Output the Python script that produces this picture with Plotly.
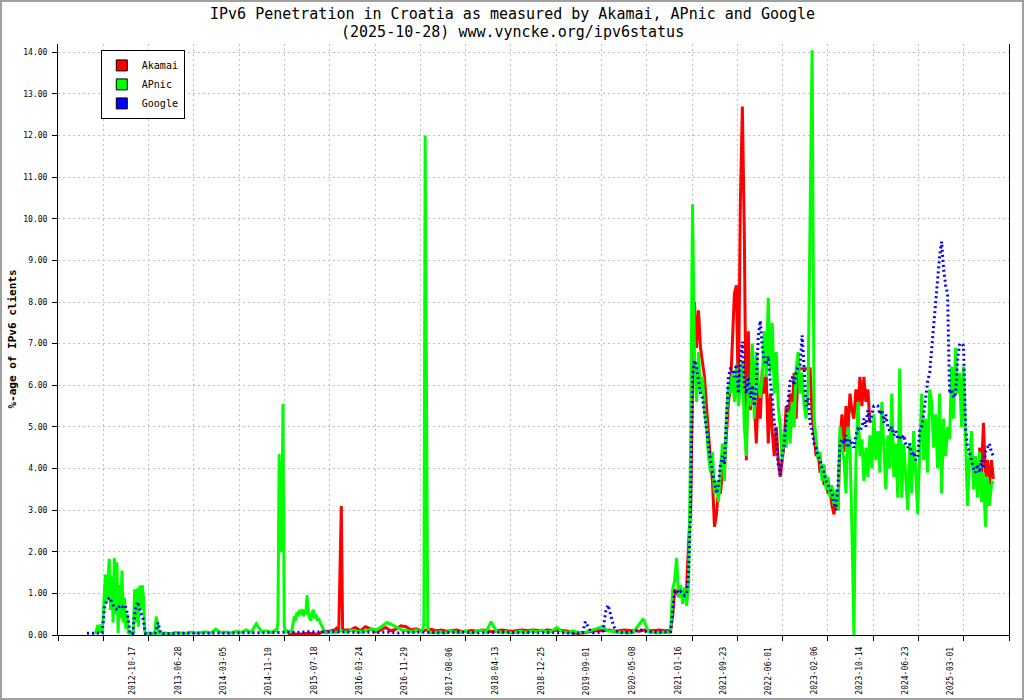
import pandas as pd
import plotly.graph_objects as go

# date labels printed under the x axis
tick_dates = ["2012-10-17", "2013-06-28", "2014-03-05", "2014-11-10", "2015-07-18",
              "2016-03-24", "2016-11-29", "2017-08-06", "2018-04-13", "2018-12-25",
              "2019-09-01", "2020-05-08", "2021-01-16", "2021-09-23", "2022-06-01",
              "2023-02-06", "2023-10-14", "2024-06-23", "2025-03-01"]
y_ticks = list(range(0, 15))

# ---- Akamai (% of clients) ----
akamai_2015 = [0.02, 0.03, 0.02, 0.03, 0.04, 0.03, 0.02, 0.1, 0.08, 0.12]          # from 2015-02-27, every 28 days
akamai_spike = [0.1, 0.15, 0.1, 0.12, 1.64, 3.1, 0.15, 0.1, 0.12]                   # from 2015-11-13, weekly
akamai_quiet = [0.12, 0.18, 0.1, 0.2, 0.15, 0.08, 0.12, 0.18, 0.1, 0.14,
                0.22, 0.2, 0.12, 0.15, 0.1, 0.12, 0.14, 0.1, 0.12, 0.09,
                0.1, 0.12, 0.08, 0.1, 0.11, 0.09, 0.12, 0.1, 0.08, 0.1,
                0.12, 0.1, 0.09, 0.11, 0.12, 0.1, 0.12, 0.11, 0.1, 0.12,
                0.1, 0.12, 0.11, 0.09, 0.05, 0.04, 0.05, 0.08, 0.1, 0.11,
                0.1, 0.12, 0.09, 0.1, 0.12, 0.11, 0.1, 0.09, 0.12, 0.1,
                0.11, 0.12]                                                          # from 2016-02-05, every 28 days
akamai_2020 = [0.1, 0.11, 0.1, 0.12, 0.45, 1.1, 1.0, 0.95, 1.05, 0.9, 1.0, 1.1, 2.2,
               3.0, 6.0, 8.0, 6.9, 7.8, 6.9, 6.6, 6.2, 5.5, 4.8, 4.2, 3.7, 2.6, 2.9, 3.5, 3.4, 3.9,
               4.0, 4.8, 5.6, 5.9, 7.2, 8.2, 8.4, 5.6, 10.4, 12.7, 9.6, 4.2, 7.3, 5.4, 6.0, 5.6, 4.6, 5.9, 5.2, 6.4,
               5.8, 6.2, 4.6, 5.8, 4.9, 4.3, 5.0, 4.2, 3.8, 4.2, 4.6, 5.5, 4.9, 5.8, 5.4, 6.3, 5.2, 6.4, 6.4, 6.4,
               6.4, 6.4, 6.4, 6.4, 5.3, 4.8, 4.3, 4.4, 3.9, 4.1, 3.6, 3.7, 3.4, 3.5, 3.1, 2.9, 3.4, 3.0, 4.7, 5.3,
               4.4, 5.5, 4.9, 5.8, 5.4, 5.2, 5.9, 5.4, 6.2, 5.5, 6.2, 5.6, 5.9, 5.1]   # from 2020-11-06, every 11 days
akamai_2025 = [4.5, 3.9, 5.1, 3.8, 4.2, 3.6, 4.2, 3.75]                             # from 2025-08-10, every 11 days

# ---- APnic ----
apnic_2012 = [0.02, 0.12, 0.24, 0.05, 0.25, 0.04, 0.3, 0.95, 1.45, 0.8,
              1.5, 1.83, 0.6, 1.4, 0.3, 1.85, 0.5, 1.75, 0.05, 1.2,
              0.4, 1.55, 0.3, 0.9, 0.15, 0.5, 0.05, 0.03, 0.04, 0.03,
              0.05, 1.1, 0.3, 1.12, 0.2, 1.18, 0.6, 1.2, 0.9, 0.1,
              0.03, 0.04, 0.03, 0.05, 0.04, 0.03, 0.05, 0.04, 0.44, 0.3, 0.04]      # from 2012-03-30, weekly
apnic_2013 = [0.04, 0.05, 0.03, 0.06, 0.05, 0.04, 0.07, 0.05, 0.06, 0.08, 0.05,
              0.14, 0.06, 0.07, 0.05, 0.09, 0.06, 0.12, 0.07, 0.27, 0.08, 0.1]      # from 2013-03-22, every 28 days
apnic_2014 = [0.06, 0.08, 0.1, 0.12, 0.1, 0.3, 4.35, 2.1, 2.0, 5.55, 0.2,
              0.08, 0.1, 0.06, 0.08, 0.07, 0.1, 0.3, 0.45, 0.35, 0.55, 0.45,
              0.6, 0.5, 0.62, 0.45, 0.6, 0.5, 0.95, 0.55, 0.4, 0.35, 0.55,
              0.6, 0.4, 0.5, 0.35, 0.4, 0.3, 0.25, 0.2, 0.1, 0.06, 0.05]           # from 2014-11-28, weekly
apnic_2015 = [0.08, 0.06, 0.1, 0.07, 0.12, 0.09, 0.08, 0.1, 0.15,
              0.12, 0.2, 0.3, 0.25, 0.18, 0.12, 0.1, 0.08]                          # from 2015-10-23, every 28 days
apnic_2017 = [0.1, 0.08, 0.12, 0.1, 0.09, 0.1, 0.08, 0.1, 0.3, 12.0, 6.1, 0.2, 0.08, 0.06]  # from 2017-01-21, weekly
apnic_2017b = [0.06, 0.08, 0.05, 0.1, 0.07, 0.06, 0.09, 0.05, 0.08, 0.12,
               0.07, 0.32, 0.1, 0.06, 0.08, 0.05, 0.07, 0.09, 0.06, 0.1,
               0.08, 0.12, 0.07, 0.09, 0.18, 0.08, 0.06, 0.1, 0.07, 0.05,
               0.08, 0.12, 0.15, 0.2, 0.1, 0.08, 0.06, 0.07, 0.05, 0.06,
               0.24, 0.39, 0.08, 0.06, 0.05, 0.07]                                 # from 2017-05-20, every 28 days
apnic_2020 = [0.06, 0.08, 0.05, 0.07, 1.1, 1.3, 1.85, 0.9, 1.2, 0.75, 1.15, 0.7, 1.2,
              4.5, 10.35, 6.6, 5.6, 6.8, 5.8, 6.2, 5.4, 5.0, 4.3, 3.9, 4.4, 3.4, 3.7, 3.2, 3.8, 4.6,
              3.7, 5.2, 6.0, 5.8, 6.3, 5.6, 6.5, 5.5, 6.0, 6.6, 5.0, 4.3, 6.2, 5.5, 7.0, 5.2, 6.8, 6.0, 5.7, 6.2,
              7.3, 6.2, 8.1, 6.3, 7.5, 5.8, 6.8, 5.5, 5.0, 4.2, 4.9, 4.5, 5.4, 4.6, 5.6, 5.0, 6.4, 6.8, 5.8, 6.3,
              5.5, 5.2, 6.0, 9.5, 14.05, 5.2, 4.6, 4.2, 4.4, 3.7, 4.1, 3.5, 3.8, 3.3, 3.6, 3.1, 3.5, 3.0, 5.0, 4.5,
              4.2, 3.4, 5.0, 4.6, 2.5, 0.0, 4.2, 5.6, 4.3, 4.7, 3.7, 4.5, 3.8, 4.8, 4.0, 5.3, 4.2, 4.9, 3.9, 5.6,
              4.5, 3.5, 4.8, 4.0, 5.8, 3.8, 4.6, 3.3, 6.4, 3.3, 4.6, 3.8, 3.0, 4.6, 3.4, 4.9, 3.8, 2.9, 4.4, 5.8,
              4.2, 5.2, 3.9, 5.9, 5.6, 4.5, 5.3, 4.0, 5.8, 3.4, 5.2, 4.3, 5.0, 4.7, 6.45, 5.2, 6.9, 5.8, 6.3, 5.0,
              6.45, 4.5, 3.1, 4.2, 4.9, 3.5, 4.3, 3.3, 4.4, 3.2, 3.9, 2.6, 3.8, 3.1, 3.6, 3.7]  # from 2020-11-06, every 11 days

# ---- Google ----
google_2012 = [0.04, 0.04, 0.05, 0.04, 0.05, 0.04, 0.05, 0.7, 0.85, 0.9,
               0.75, 0.65, 0.6, 0.72, 0.68, 0.72, 0.5, 0.04, 0.03, 0.6,
               0.8, 0.55, 0.45, 0.04, 0.03, 0.04, 0.03, 0.05, 0.3, 0.04]           # from 2012-02-13, every 14 days
google_2013 = [0.03, 0.04, 0.04, 0.03, 0.04, 0.05, 0.04, 0.05, 0.05, 0.06,
               0.05, 0.06, 0.07, 0.06, 0.08, 0.07, 0.08, 0.08, 0.07, 0.06,
               0.07, 0.06, 0.07, 0.05, 0.06, 0.07, 0.06, 0.05, 0.06, 0.07,
               0.06, 0.05, 0.06, 0.07, 0.06, 0.05, 0.06, 0.05, 0.06, 0.05, 0.05]   # from 2013-04-22, every 56 days
google_2019 = [0.05, 0.05, 0.04, 0.05, 0.06, 0.32, 0.2, 0.1, 0.06, 0.05,
               0.06, 0.05, 0.1, 0.55, 0.72, 0.45, 0.25, 0.1, 0.07, 0.06,
               0.05, 0.06, 0.05, 0.07, 0.1, 0.11, 0.1, 0.12, 0.1, 0.08,
               0.06, 0.07, 0.06, 0.07, 0.06, 0.07]                                 # from 2019-06-17, every 14 days
google_2020 = [0.07, 0.06, 0.07, 0.08, 0.5, 1.05, 1.08, 1.0, 1.05, 1.0, 0.95, 1.0, 1.5,
               3.0, 6.2, 6.6, 6.45, 6.1, 5.8, 5.7, 5.3, 4.9, 4.5, 4.2, 3.9, 3.7, 3.4, 3.6, 4.1, 4.3,
               4.1, 5.2, 6.2, 6.4, 6.4, 6.2, 6.5, 5.8, 6.6, 7.05, 6.0, 5.8, 6.2, 5.7, 6.0, 5.5, 6.0, 7.2, 7.55, 6.9,
               6.6, 6.5, 6.7, 6.1, 5.7, 5.1, 4.8, 4.1, 3.85, 4.3, 4.6, 5.2, 5.6, 6.1, 6.2, 6.0, 6.3, 6.45, 6.5, 7.2,
               6.4, 5.5, 5.7, 5.1, 4.9, 4.6, 4.5, 4.3, 4.2, 4.0, 3.9, 3.7, 3.6, 3.5, 3.4, 3.2, 3.0, 3.6, 4.6, 4.7,
               4.6, 4.8, 4.5, 4.7, 4.6, 4.5, 4.8, 4.95, 4.9, 5.0, 5.2, 5.0, 5.4, 5.1, 5.3, 5.5, 5.5, 5.5, 5.3, 5.4,
               5.1, 5.3, 5.0, 4.9, 5.0, 4.8, 4.9, 4.7, 4.8, 4.7, 4.8, 4.6, 4.5, 4.6, 4.3, 4.4, 4.2, 4.3, 4.9, 5.0,
               5.3, 5.7, 6.1, 6.3, 6.9, 7.3, 7.9, 8.6, 9.1, 9.45, 8.8, 8.4, 8.2, 5.8, 5.9, 5.7, 5.8, 6.6, 7.0, 7.0,
               6.95, 5.0, 4.5, 4.4, 4.2, 4.0, 3.9, 4.1, 3.9, 4.2, 4.0, 4.4, 4.5, 4.6, 4.4, 4.3]  # from 2020-11-06, every 11 days

title_lines = ["IPv6 Penetration in Croatia as measured by Akamai, APnic and Google",
               "(2025-10-28) www.vyncke.org/ipv6status"]
y_title = "%-age of IPv6 clients"


def seg(start, step, vals):
    d = pd.date_range(start, periods=len(vals), freq=f"{step}D")
    return list(d), list(vals)


def join(*parts):
    xs, ys = [], []
    for p in parts:
        if p is None:  # break the line (no data)
            xs.append(xs[-1])
            ys.append(None)
            continue
        xs += p[0]
        ys += p[1]
    return xs, ys


ak_x, ak_y = join(seg("2015-02-27", 28, akamai_2015), seg("2015-11-13", 7, akamai_spike),
                  seg("2016-02-05", 28, akamai_quiet), seg("2020-11-06", 11, akamai_2020),
                  None, seg("2025-08-10", 11, akamai_2025))
ap_x, ap_y = join(seg("2012-03-30", 7, apnic_2012), seg("2013-03-22", 28, apnic_2013),
                  seg("2014-11-28", 7, apnic_2014), seg("2015-10-23", 28, apnic_2015),
                  seg("2017-01-21", 7, apnic_2017), seg("2017-05-20", 28, apnic_2017b),
                  seg("2020-11-06", 11, apnic_2020))
go_x, go_y = join(seg("2012-02-13", 14, google_2012), seg("2013-04-22", 56, google_2013),
                  seg("2019-06-17", 14, google_2019), seg("2020-11-06", 11, google_2020))

mono = "DejaVu Sans Mono"
fig = go.Figure()
fig.add_trace(go.Scatter(x=ak_x, y=ak_y, mode="lines", line=dict(color="#ff0000", width=3),
                         showlegend=False))
fig.add_trace(go.Scatter(x=ap_x, y=ap_y, mode="lines", line=dict(color="#00ff00", width=3),
                         showlegend=False))
fig.add_trace(go.Scatter(x=go_x, y=go_y, mode="lines",
                         line=dict(color="#0000ff", width=3, dash="2px,3px"), showlegend=False))

# legend swatches
for name, col in [("Akamai", "#ff0000"), ("APnic", "#00ff00"), ("Google", "#0000ff")]:
    fig.add_trace(go.Scatter(x=[None], y=[None], mode="markers", name=name,
                             marker=dict(symbol="square", size=11, color=col,
                                         line=dict(color="black", width=1))))

for d in tick_dates:
    fig.add_annotation(x=d, y=0, xref="x", yref="paper", text=d, showarrow=False,
                       textangle=-90, yanchor="top", yshift=-10,
                       font=dict(family=mono, size=8, color="black"))

# two-line title, centred on the whole picture
for i, line in enumerate(title_lines):
    fig.add_annotation(x=(512 - 58) / 951, y=1, xref="paper", yref="paper", text=line,
                       showarrow=False, xanchor="center", yanchor="middle",
                       yshift=30 - 18 * i, font=dict(family=mono, size=15, color="black"))

fig.add_annotation(x=-46 / 951, y=0.5, xref="paper", yref="paper", text=y_title,
                   showarrow=False, textangle=-90, xanchor="center", yanchor="middle",
                   font=dict(family=mono, size=11, color="black", weight="bold"))

fig.update_layout(
    width=1024, height=700,
    margin=dict(l=58, r=15, t=44, b=65, autoexpand=False),
    paper_bgcolor="white", plot_bgcolor="white",
    legend=dict(x=0.045, y=0.99, xanchor="left", yanchor="top", bgcolor="white",
                bordercolor="black", borderwidth=1, itemwidth=30,
                font=dict(family=mono, size=10, color="black")),
    xaxis=dict(type="date", range=["2011-09-06", "2026-01-20"], tick0="2011-09-06",
               dtick=250 * 86400000, showticklabels=False, ticks="outside", ticklen=5,
               tickcolor="black", showline=True, linecolor="black", linewidth=1,
               showgrid=True, gridcolor="#c0c0c0", griddash="2px,3px", gridwidth=1,
               zeroline=False, automargin=False),
    yaxis=dict(range=[0, 14.2], tickvals=y_ticks, tickformat=".2f", ticks="outside",
               ticklen=5, tickcolor="black", showline=True, linecolor="black",
               linewidth=1, mirror=True, showgrid=True, gridcolor="#c0c0c0",
               griddash="2px,3px", gridwidth=1, zeroline=False, ticklabelstandoff=3,
               automargin=False,
               tickfont=dict(family=mono, size=8, color="black")),
)

# outer grey frame of the picture
fig.add_shape(type="rect", xref="paper", yref="paper",
              x0=-57 / 951, x1=1 + 14 / 951, y0=-64 / 591, y1=1 + 43 / 591,
              line=dict(color="#a0a0a0", width=2), layer="below")

# the page's default 8px body margin would shift the whole picture
fig.write_html("out.html", config={"displayModeBar": False},
               post_script="document.body.style.margin='0';")
